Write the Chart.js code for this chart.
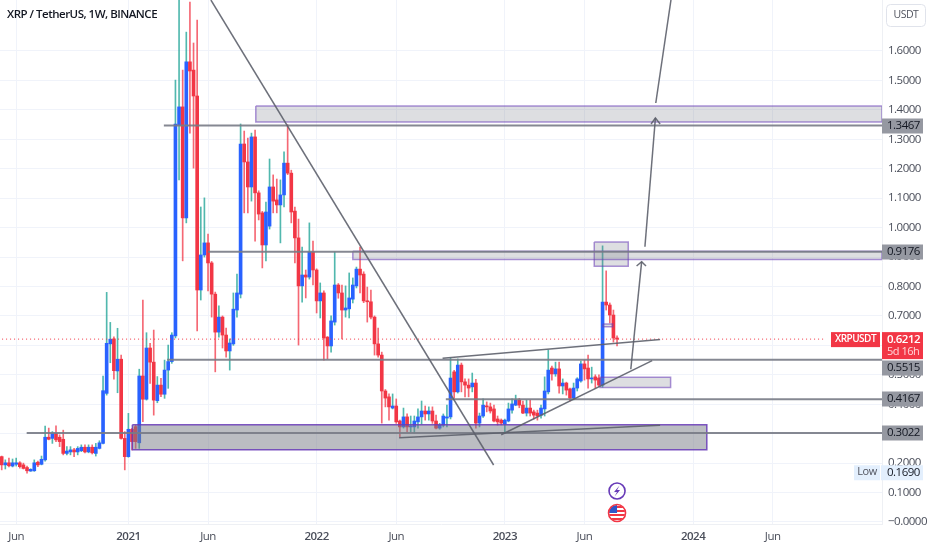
<!DOCTYPE html>
<html>
<head>
<meta charset="utf-8">
<title>XRP / TetherUS</title>
<script src="https://cdn.jsdelivr.net/npm/chart.js@4"></script>
<style>
    html, body { margin: 0; padding: 0; background: #ffffff; }
    canvas { display: block; }
</style>
</head>
<body>
<canvas id="priceChart" width="932" height="550"></canvas>
<script>
// Weekly candles, oldest first
const opens = [
    .222,.194,.201,.190,.196,.201,.194,.185,.173,.174,
    .203,.196,.211,.288,.284,.301,.288,.281,.233,.238,
    .245,.238,.242,.254,.238,.254,.233,.250,.267,.437,
    .605,.622,.513,.553,.284,.222,.315,.324,.269,.496,
    .417,.591,.543,.412,.465,.434,.516,.545,.632,1.348,
    1.41,1.033,1.563,1.535,1.447,.788,.907,.948,.88,.774,
    .645,.696,.635,.581,.605,.72,.774,1.284,1.223,1.138,
    1.308,1.118,1.05,.941,1.005,1.138,1.094,1.077,1.111,1.219,
    1.185,1.056,.965,.802,.839,.832,.917,.856,.751,.778,
    .628,.598,.679,.805,.778,.72,.724,.757,.802,.859,
    .842,.751,.748,.696,.605,.567,.445,.425,.387,.394,
    .343,.323,.357,.323,.323,.34,.357,.377,.367,.377,
    .343,.319,.329,.353,.357,.51,.442,.533,.476,.465,
    .459,.472,.336,.36,.394,.391,.384,.35,.346,.333,
    .343,.38,.397,.414,.397,.37,.387,.374,.37,.363,
    .384,.442,.523,.503,.52,.462,.472,.452,.421,.455,
    .479,.537,.523,.486,.493,.489,.465,.747,.737,.703,.625
];
const highs = [
    .224,.211,.217,.214,.217,.205,.200,.190,.181,.211,
    .207,.224,.326,.319,.307,.327,.296,.312,.256,.256,
    .250,.256,.262,.262,.262,.262,.267,.276,.496,.780,
    .678,.629,.658,.567,.307,.369,.318,.329,.519,.754,
    .643,.607,.652,.494,.488,.550,.601,.643,1.501,1.96,
    1.535,1.664,1.766,1.627,1.705,1.07,1.101,.978,.885,.781,
    .734,.70,.659,.622,.778,.842,1.352,1.328,1.304,1.321,
    1.331,1.125,1.055,1.087,1.233,1.179,1.165,1.162,1.257,1.349,
    1.195,1.07,1.029,.934,.856,1.016,.954,.86,.812,.785,
    .63,.70,.917,.81,.805,.802,.846,.829,.866,.934,
    .85,.798,.788,.70,.659,.577,.45,.435,.435,.418,
    .346,.387,.367,.36,.36,.384,.411,.394,.391,.391,
    .363,.335,.367,.397,.557,.515,.554,.54,.486,.486,
    .506,.485,.37,.418,.408,.404,.397,.36,.35,.35,
    .404,.418,.431,.42,.411,.414,.414,.38,.38,.397,
    .493,.584,.53,.543,.543,.486,.475,.455,.472,.49,
    .547,.55,.567,.526,.50,.50,.938,.853,.744,.72,.632
];
const lows = [
    .177,.180,.187,.187,.190,.183,.180,.166,.172,.172,
    .188,.194,.207,.279,.267,.273,.256,.228,.228,.228,
    .222,.228,.239,.235,.235,.231,.224,.248,.265,.431,
    .541,.485,.439,.281,.177,.220,.245,.250,.250,.341,
    .414,.471,.363,.405,.426,.420,.454,.539,.625,1.162,
    .887,1.016,1.321,1.202,.649,.754,.90,.785,.696,.51,
    .628,.591,.56,.516,.60,.696,.761,1.05,1.05,1.09,
    .954,1.026,.863,.887,.995,1.05,1.05,.948,1.07,1.18,
    1.016,.88,.601,.747,.761,.825,.805,.71,.693,.55,
    .554,.577,.669,.76,.622,.696,.693,.744,.795,.778,
    .745,.679,.69,.567,.56,.336,.391,.346,.384,.335,
    .289,.319,.306,.306,.302,.319,.333,.346,.346,.335,
    .316,.315,.323,.323,.35,.421,.438,.442,.425,.425,
    .442,.319,.323,.355,.374,.37,.34,.329,.33,.302,
    .34,.37,.395,.388,.368,.36,.36,.35,.346,.353,
    .36,.435,.482,.495,.438,.435,.431,.411,.415,.445,
    .475,.482,.455,.472,.455,.46,.458,.72,.676,.611,.598
];
const closes = [
    .194,.201,.191,.201,.201,.188,.182,.174,.179,.201,
    .194,.213,.288,.281,.301,.279,.273,.233,.241,.245,
    .238,.250,.254,.238,.254,.235,.254,.269,.446,.607,
    .621,.514,.553,.284,.222,.315,.273,.273,.496,.417,
    .591,.543,.414,.465,.434,.516,.545,.635,1.352,1.41,
    1.033,1.563,1.532,1.447,.788,.907,.948,.88,.774,.645,
    .696,.635,.581,.608,.723,.778,1.284,1.223,1.138,1.308,
    1.118,1.046,.941,1.053,1.138,1.09,1.077,1.111,1.219,1.185,
    1.053,.965,.802,.839,.832,.917,.856,.751,.778,.625,
    .598,.683,.805,.778,.72,.727,.761,.805,.859,.839,
    .751,.748,.696,.605,.567,.445,.421,.391,.394,.34,
    .323,.357,.323,.326,.343,.357,.377,.367,.377,.343,
    .319,.329,.36,.357,.489,.442,.533,.476,.465,.455,
    .472,.336,.36,.397,.391,.377,.343,.34,.336,.346,
    .384,.401,.414,.397,.37,.387,.37,.363,.36,.387,
    .445,.516,.503,.52,.462,.472,.448,.421,.455,.486,
    .537,.52,.486,.489,.482,.465,.747,.737,.703,.625,.6212
];

// Axis ticks (time axis is in week numbers counted from the first candle)
const weekTicks = [4, 35, 57, 87, 109, 139, 161, 191, 213];
const weekLabels = ['Jun', '2021', 'Jun', '2022', 'Jun', '2023', 'Jun', '2024', 'Jun'];
const priceTicks = [0, .1, .2, .3, .4, .5, .6, .7, .8, .9, 1, 1.1, 1.2, 1.3, 1.4, 1.5, 1.6];
const priceLabels = ['\u22120.0000', '0.1000', '0.2000', '0.3000', '0.4000', '0.5000', '0.6000', '0.7000',
    '0.8000', '0.9000', '1.0000', '1.1000', '1.2000', '1.3000', '1.4000', '1.5000', '1.6000'];

// Drawings on the chart, as [week, price]
const lastWeek = 243.2;
const levelPrices = [1.3467, .9176, .5515, .4167, .3022];
const levelStarts = [44.8, 57, 45.7, 122.7, 6.9];
const lastPrice = .6212;
const lightBoxes = [
    [70.2, lastWeek, 1.413, 1.359],
    [97, lastWeek, .92, .892],
    [163.7, 173.1, .951, .869],
    [165.3, 184.8, .4915, .457],
    [166.1, 168.8, .6725, .6634]
];
const supportBox = [36.1, 194.8, .3305, .2456];
const trendLines = [
    [[57.8, 1.773], [135.9, .1936]],
    [[121.8, .556], [181.9, .62]],
    [[109.8, .2863], [181.9, .3285]],
    [[138, .2965], [179.7, .548]],
    [[173.8, .5187], [176.8, .8842]],
    [[175.4, .8696], [176.8, .8842], [178, .8696]],
    [[177.7, .9351], [180.6, 1.3723]],
    [[179.4, 1.352], [180.6, 1.3723], [181.9, 1.352]],
    [[180.7, 1.4232], [184.9, 1.7731]]
];

const BLUE = '#2962ff';
const RED = '#f23645';
const TEAL = 'rgba(38, 166, 154, 0.8)';
const FONT = '"Open Sans", sans-serif';

const isUp = closes.map((c, i) => c >= opens[i]);

function toPoints(pairs) {
    return pairs.map(p => ({ x: p[0], y: p[1] }));
}

function lineDataset(pairs, color, width, order) {
    return {
        type: 'line',
        data: toPoints(pairs),
        borderColor: color,
        borderWidth: width,
        pointRadius: 0,
        order: order
    };
}

function boxDataset(box, fillColor, lineColor) {
    const dataset = lineDataset([
        [box[0], box[2]], [box[1], box[2]], [box[1], box[3]], [box[0], box[3]], [box[0], box[2]]
    ], lineColor, 1.5, 5);
    dataset.fill = 'shape';
    dataset.backgroundColor = fillColor;
    return dataset;
}

// Price tags, badges and header are drawn last, over the axis
const overlayPlugin = {
    id: 'overlay',
    // the chart's type is narrow, tighten all of it
    beforeDraw(chart) {
        chart.ctx.letterSpacing = '-0.5px';
    },
    afterDraw(chart) {
        const c = chart.ctx;
        const yScale = chart.scales.y;
        const xScale = chart.scales.x;

        function tag(x, y, w, h, fill) {
            c.fillStyle = fill;
            c.fillRect(x, y, w, h);
        }
        function text(str, x, y, color, font, align) {
            c.fillStyle = color;
            c.font = font;
            c.textAlign = align || 'left';
            c.textBaseline = 'middle';
            c.fillText(str, x, y);
        }

        // grey level tags, 0.5515 is pushed down by the red tag above it
        const nudges = [0, 0, 8, 0, 0];
        levelPrices.forEach((price, i) => {
            const mid = Math.round(yScale.getPixelForValue(price)) + nudges[i];
            tag(882, mid - 7.5, 41, 15, '#9598a1');
            text(price.toFixed(4), 887, mid, '#131722', '11.5px ' + FONT);
        });

        // last price tag
        const lastY = yScale.getPixelForValue(lastPrice);
        tag(882, lastY - 7, 41, 27, RED);
        text(lastPrice.toFixed(4), 887, lastY + 0.5, '#ffffff', '600 11.5px ' + FONT);
        text('5d 16h', 887, lastY + 13, '#ffd6da', '11px ' + FONT);
        tag(831, lastY - 7, 49, 15, RED);
        text('XRPUSDT', 855.5, lastY + 0.5, '#ffffff', '600 10px ' + FONT, 'center');

        // low of the range
        const lowY = yScale.getPixelForValue(.169);
        tag(854, lowY - 7, 26, 15, '#e3effd');
        tag(881, lowY - 7, 42, 15, '#e3effd');
        text('Low', 867, lowY, '#50535e', '11px ' + FONT, 'center');
        text('0.1690', 887, lowY, '#131722', '11.5px ' + FONT);

        // currency button
        c.strokeStyle = '#e0e3eb';
        c.lineWidth = 1;
        c.beginPath();
        c.roundRect(886.5, 4.5, 39, 22, 4);
        c.stroke();
        text('USDT', 906, 15.5, '#50535e', '10.5px ' + FONT, 'center');

        // header
        text('XRP / TetherUS, 1W, BINANCE', 7, 15, '#131722', '600 11.5px ' + FONT);

        // event badges under the last candle
        const badgeX = xScale.getPixelForValue(opens.length - 1);
        c.strokeStyle = '#673ab7';
        c.lineWidth = 1.6;
        c.beginPath();
        c.arc(badgeX, 491, 8, 0, Math.PI * 2);
        c.stroke();
        c.fillStyle = '#673ab7';
        c.beginPath();
        c.moveTo(badgeX + 2.5, 485.5);
        c.lineTo(badgeX - 3, 492);
        c.lineTo(badgeX, 492);
        c.lineTo(badgeX - 2.5, 496.5);
        c.lineTo(badgeX + 3, 490);
        c.lineTo(badgeX, 490);
        c.closePath();
        c.fill();

        c.save();
        c.beginPath();
        c.arc(badgeX, 513, 8, 0, Math.PI * 2);
        c.clip();
        c.fillStyle = '#ffffff';
        c.fillRect(badgeX - 8, 505, 16, 16);
        c.fillStyle = RED;
        for (let i = 0; i < 4; i++) {
            c.fillRect(badgeX - 8, 506 + i * 4, 16, 2);
        }
        c.fillStyle = '#2f55c8';
        c.fillRect(badgeX - 8, 505, 8, 8);
        c.restore();
        c.strokeStyle = RED;
        c.lineWidth = 1.6;
        c.beginPath();
        c.arc(badgeX, 513, 8.5, 0, Math.PI * 2);
        c.stroke();
    }
};

const levelColor = 'rgba(120, 123, 134, 0.9)';
const datasets = [
    // wicks
    {
        type: 'bar',
        data: highs.map((h, i) => ({ x: i, y: [lows[i], h] })),
        backgroundColor: isUp.map(up => up ? TEAL : 'rgba(242, 54, 69, 0.75)'),
        barThickness: 1,
        grouped: false,
        order: 11
    },
    // bodies
    {
        type: 'bar',
        data: opens.map((o, i) => ({ x: i, y: [o, closes[i]] })),
        backgroundColor: isUp.map(up => up ? BLUE : RED),
        barThickness: 3,
        minBarLength: 1,
        grouped: false,
        order: 10
    },
    // last price line
    Object.assign(lineDataset([[-1, lastPrice], [227.4, lastPrice]], RED, 1, 8), { borderDash: [1, 3] })
];
lightBoxes.forEach(b => datasets.push(boxDataset(b, 'rgba(120, 123, 134, 0.25)', 'rgba(103, 58, 183, 0.55)')));
datasets.push(boxDataset(supportBox, 'rgba(120, 123, 134, 0.5)', 'rgba(103, 58, 183, 0.85)'));
levelPrices.forEach((price, i) => {
    datasets.push(lineDataset([[levelStarts[i], price], [lastWeek, price]], levelColor, 2, 3));
});
trendLines.forEach(line => datasets.push(lineDataset(line, 'rgba(93, 96, 107, 0.9)', 1.5, 2)));

new Chart(document.getElementById('priceChart').getContext('2d'), {
    type: 'bar',
    data: { datasets: datasets },
    options: {
        responsive: false,
        animation: false,
        devicePixelRatio: 1,
        layout: { padding: 0 },
        plugins: {
            legend: { display: false },
            tooltip: { enabled: false }
        },
        scales: {
            x: {
                type: 'linear',
                offset: false,
                min: -0.47,
                max: lastWeek,
                grid: { offset: false, color: '#f0f3fa', drawTicks: false },
                border: { color: '#eef0f4' },
                afterBuildTicks: scale => { scale.ticks = weekTicks.map(v => ({ value: v })); },
                afterFit: scale => {
                    scale.height = 26;
                    scale.paddingLeft = 0;
                    scale.paddingRight = 0;
                },
                ticks: {
                    autoSkip: false,
                    maxRotation: 0,
                    padding: 6,
                    color: '#4a4e5a',
                    font: ctx => ({ family: FONT, size: 11.5, weight: ctx.tick && /\d/.test(ctx.tick.label) ? '600' : '400' }),
                    callback: value => weekLabels[weekTicks.indexOf(value)]
                }
            },
            y: {
                type: 'linear',
                position: 'right',
                beginAtZero: false,
                min: -0.0068,
                max: 1.7731,
                grid: { color: '#f0f3fa', drawTicks: false },
                border: { color: '#eef0f4' },
                afterBuildTicks: scale => { scale.ticks = priceTicks.map(v => ({ value: v })); },
                afterFit: scale => {
                    scale.width = 50;
                    scale.paddingTop = 0;
                    scale.paddingBottom = 0;
                },
                ticks: {
                    autoSkip: false,
                    padding: 6,
                    color: '#4a4e5a',
                    font: { family: FONT, size: 11.5 },
                    callback: value => priceLabels[priceTicks.indexOf(value)]
                }
            }
        }
    },
    plugins: [overlayPlugin]
});
</script>
</body>
</html>
